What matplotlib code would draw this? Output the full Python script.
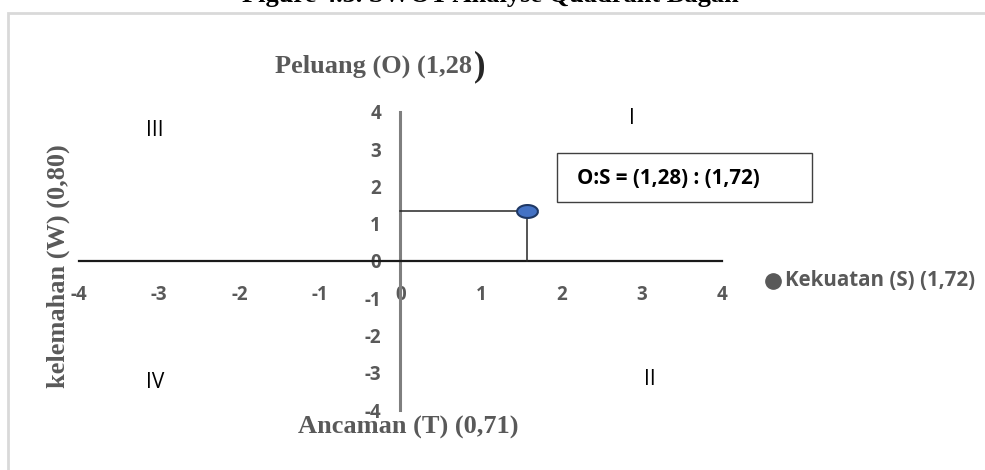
import matplotlib
matplotlib.use("Agg")
import matplotlib.pyplot as plt
from matplotlib.patches import Rectangle
from matplotlib.path import Path
import numpy as np

# data
ticks = [-4, -3, -2, -1, 0, 1, 2, 3, 4]
point_s = [1.57]     # where the dot sits on the strength axis
point_o = [1.35]     # where the dot sits on the opportunity axis
quadrants = ["I", "II", "III", "IV"]
quad_x = [2.88, 3.1, -3.05, -3.05]
quad_y = [3.83, -3.19, 3.5, -3.27]
label_top = "Peluang (O) (1,28"
label_bottom = "Ancaman (T) (0,71)"
label_left = "kelemahan (W) (0,80)"
label_right = "Kekuatan (S) (1,72)"
box_text = "O:S = (1,28) : (1,72)"
title = "Figure 4.3. SWOT Analyse Quadrant Bagan"

W, H = 985, 470
fig = plt.figure(figsize=(W / 100, H / 100), dpi=100)

def px(x, y):
    """pixel (from top left) -> figure fraction"""
    return x / W, 1 - y / H

# light grey frame of the chart area
fig.patches.append(Rectangle(px(7.5, 520), 1.2, (520 - 13) / H, transform=fig.transFigure,
                             fill=False, edgecolor="#d9d9d9", linewidth=2))

# 0 at x=400.5px, 80.5 px per unit ; 0 at y=261px, 37.3 px per unit
ax = fig.add_axes([(400.5 - 4.5 * 80.5) / W, (H - 261 - 4.5 * 37.3) / H,
                   9 * 80.5 / W, 9 * 37.3 / H])
ax.set_xlim(-4.5, 4.5)
ax.set_ylim(-4.5, 4.5)
ax.patch.set_visible(False)

for s in ["top", "right"]:
    ax.spines[s].set_visible(False)
ax.spines["left"].set_position(("data", 0))
ax.spines["bottom"].set_position(("data", 0))
ax.spines["left"].set_bounds(-4, 4)
ax.spines["bottom"].set_bounds(-4, 4)
ax.spines["left"].set_color("#7f7f7f")
ax.spines["left"].set_linewidth(2.2)
ax.spines["bottom"].set_color("#1a1a1a")
ax.spines["bottom"].set_linewidth(1.6)

sans = "Open Sans"
tick_font = dict(family=sans, weight="bold", size=13.5, color="#595959")
ax.set_xticks(ticks)
ax.set_yticks(ticks)
ax.set_xticklabels([str(t) for t in ticks], **tick_font)
ax.set_yticklabels([str(t) for t in ticks], **tick_font)
ax.tick_params(axis="x", length=0, pad=17)
ax.tick_params(axis="y", length=0, pad=14)

# guide lines to the point
ax.plot([0, point_s[0]], [point_o[0], point_o[0]], color="#262626", linewidth=1.1, zorder=3)
ax.plot([point_s[0], point_s[0]], [0, point_o[0]], color="#262626", linewidth=1.1, zorder=3)

# flattened dot
t = np.linspace(0, 2 * np.pi, 60)
ellipse = Path(np.column_stack([np.cos(t), 0.62 * np.sin(t)]))
ax.plot(point_s, point_o, linestyle="none", marker=ellipse, markersize=15,
        markerfacecolor="#4472c4", markeredgecolor="#1f3864", markeredgewidth=1.5, zorder=4)

for q, qx, qy in zip(quadrants, quad_x, quad_y):
    ax.text(qx, qy, q, family=sans, size=15, color="black", ha="center", va="center")

# axis captions
serif = dict(family="Liberation Serif", weight="bold", size=19, color="#595959")
fig.text(*px(275, 73), label_top, ha="left", va="baseline", **serif)
fig.text(*px(474, 75), ")", ha="left", va="baseline", family="Liberation Serif",
         weight="bold", size=25, color="#262626")
fig.text(*px(408, 434), label_bottom, ha="center", va="baseline", **serif)
fig.text(*px(58, 266), label_left, ha="center", va="center", rotation=90, **serif)

# legend-like marker and text at the right
fig.text(*px(785, 281), label_right, ha="left", va="center", family=sans,
         weight="bold", size=14.8, color="#595959")
fig.lines.append(plt.Line2D([773 / W], [1 - 281 / H], transform=fig.transFigure,
                            marker="o", markersize=11, color="#595959", linestyle="none"))

# annotation box
fig.patches.append(Rectangle(px(557, 202), (812 - 557) / W, (202 - 153) / H,
                             transform=fig.transFigure, fill=False,
                             edgecolor="#404040", linewidth=1))
fig.text(*px(577, 179), box_text, ha="left", va="center", family=sans,
         weight="bold", size=14.8, color="black")

# chart title, cut off by the top of the image
fig.text(*px(490, 2), title, ha="center", va="baseline", **dict(serif, color="black"))

fig.savefig("out.png", dpi=100)
